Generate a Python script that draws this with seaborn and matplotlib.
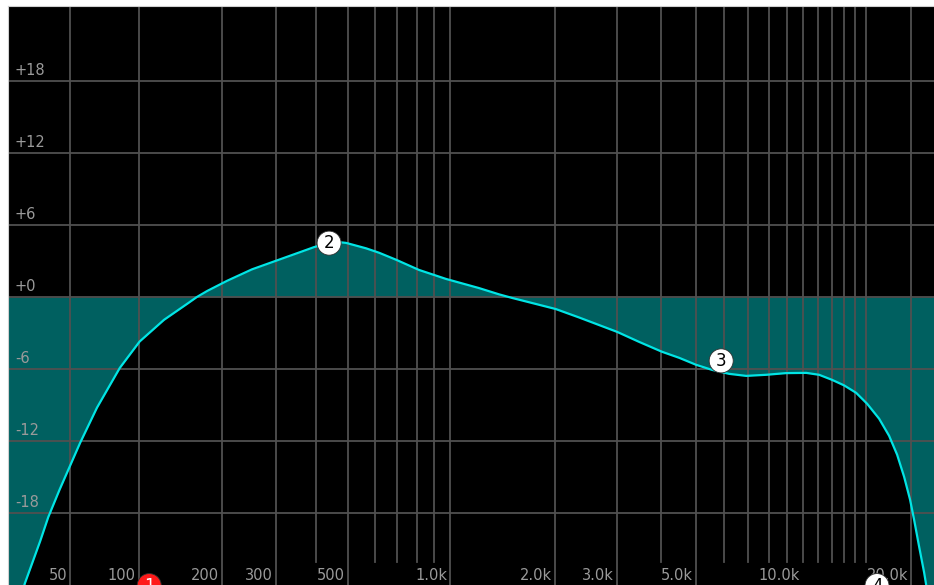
import numpy as np
import pandas as pd
import matplotlib
matplotlib.use("Agg")
import matplotlib.pyplot as plt
import matplotlib.transforms as mtransforms
import seaborn as sns

# ---------------- data ----------------
freq_hz = [20, 27, 34, 38, 44, 56, 67, 84, 101, 125, 152, 164, 178, 208, 251,
           306, 354, 394, 438, 463, 493, 566, 619, 695, 812, 974, 1210, 1385,
           1510, 2010, 2340, 3000, 3460, 4020, 4490, 5010, 5550, 6200, 6920,
           7870, 8950, 10190, 11080, 12040, 13010, 14060, 15090, 16300, 17380,
           18300, 19140, 19890, 20410, 21080, 21770, 22050, 23200]
gain_db = [-28.5, -23.8, -20.3, -18.3, -16.0, -12.1, -9.2, -5.9, -3.7,
           -1.9, -0.55, 0.0, 0.5, 1.35, 2.3, 3.1, 3.7, 4.15, 4.48, 4.58, 4.5,
           4.05, 3.68, 3.1, 2.25, 1.5, 0.75, 0.22, -0.08, -1.0, -1.70, -2.90,
           -3.73, -4.56, -5.06, -5.64, -6.06, -6.39, -6.56, -6.47, -6.33, -6.31,
           -6.47, -6.89, -7.35, -7.97, -8.88, -10.12, -11.54, -13.11, -14.94,
           -16.85, -18.51, -20.75, -22.9, -23.9, -30.0]

band_ids = ["1", "2", "3", "4"]
band_freq = [110, 438, 5890, 16080]
band_gain = [-24.0, 4.48, -5.31, -24.0]
band_color = ["#ff1a1a", "#ffffff", "#ffffff", "#ffffff"]
band_text = ["#ffffff", "#000000", "#000000", "#000000"]

x_labels = ["50", "100", "200", "300", "500", "1.0k", "2.0k", "3.0k", "5.0k", "10.0k", "20.0k"]
x_label_freq = [50, 100, 200, 300, 500, 1000, 2000, 3000, 5000, 10000, 20000]
grid_full_freq = [50, 100, 200, 300, 500, 1000, 2000, 3000, 5000, 20000]
grid_short_freq = [400, 600, 700, 800, 900, 4000, 6000, 7000, 8000, 9000,
                   10000, 11000, 12000, 13000, 14000, 15000]
y_grid = [-18, -12, -6, 0, 6, 12, 18]
y_labels = ["-18", "-12", "-6", "+0", "+6", "+12", "+18"]

# ---------------- style ----------------
BG = "#000000"
GRID = "#505050"
FILL = "#006060"
LINE = "#00e5e5"
TXT = "#9a9a9a"
FONT = ["DejaVu Sans"]

plt.rcParams["font.family"] = FONT

df = pd.DataFrame({"freq": freq_hz, "gain": gain_db})
bands = pd.DataFrame({"freq": band_freq, "gain": band_gain, "id": band_ids})

W, H = 934, 585
fig = plt.figure(figsize=(W / 100, H / 100), dpi=100, facecolor="white")
ax = fig.add_axes([8 / W, 0, 926 / W, 579 / H])
ax.set_facecolor(BG)

C = 41.0
ax.set_xscale("function", functions=(lambda f: np.log2(np.asarray(f, dtype=float) + C),
                                     lambda v: np.power(2.0, np.asarray(v, dtype=float)) - C))
ax.set_xlim(20, 23200)
ax.set_ylim(-23.95, 24.2)

# fill between curve and 0 dB
ax.fill_between(df["freq"], df["gain"], 0, color=FILL, lw=0, zorder=1)

# grid
for f in grid_full_freq:
    ax.axvline(f, color=GRID, lw=1.3, zorder=2)
for f in grid_short_freq:
    ax.axvline(f, ymin=0.04, ymax=1, color=GRID, lw=1.3, zorder=2)
for yv in y_grid:
    ax.axhline(yv, color=GRID, lw=1.3, zorder=2)

# curve
sns.lineplot(data=df, x="freq", y="gain", ax=ax, color=LINE, lw=1.6,
             zorder=4, estimator=None, sort=False,
             solid_joinstyle="round", solid_capstyle="round")

# band markers
sns.scatterplot(data=bands, x="freq", y="gain", ax=ax, hue="id",
                palette=dict(zip(band_ids, band_color)), s=300,
                edgecolor="#303030", linewidth=0.6, zorder=5, legend=False)
for f, g, t, c in zip(band_freq, band_gain, band_ids, band_text):
    ax.text(f, g, t, ha="center", va="center", fontsize=12, color=c,
            zorder=6, clip_on=True, family=FONT)

# y labels
ytr = mtransforms.blended_transform_factory(ax.transAxes, ax.transData)
for yv, lab in zip(y_grid, y_labels):
    ax.annotate(lab, xy=(7 / 926, yv), xycoords=ytr, xytext=(0, 3),
                textcoords="offset pixels", ha="left", va="bottom",
                fontsize=10.5, color=TXT, zorder=3, family=FONT)

# x labels
xtr = mtransforms.blended_transform_factory(ax.transData, ax.transAxes)
for f, lab in zip(x_label_freq, x_labels):
    ax.annotate(lab, xy=(f, 0), xycoords=xtr, xytext=(-3, 2),
                textcoords="offset pixels", ha="right", va="bottom",
                fontsize=10.5, color=TXT, zorder=3, family=FONT,
                annotation_clip=False)

ax.set_xlabel("")
ax.set_ylabel("")
ax.set_xticks([])
ax.set_yticks([])
ax.minorticks_off()
ax.tick_params(which="both", length=0, labelbottom=False, labelleft=False)
for s in ax.spines.values():
    s.set_color("#d0d0d0")
    s.set_linewidth(0.8)
ax.spines["bottom"].set_visible(False)
ax.spines["right"].set_visible(False)

fig.savefig("out.png", dpi=100, facecolor="white")
